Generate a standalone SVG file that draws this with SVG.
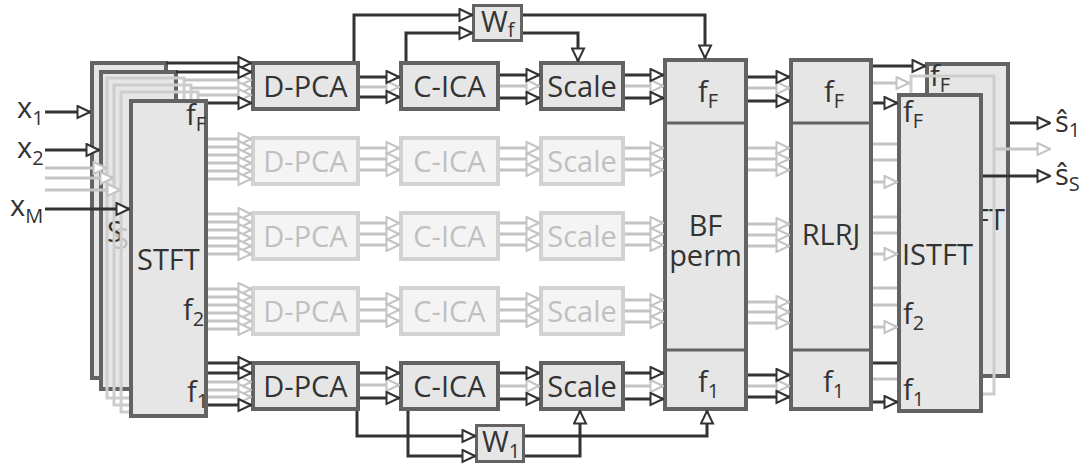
<svg xmlns="http://www.w3.org/2000/svg" width="1085" height="466" viewBox="0 0 1085 466">
<style>
.nd{fill:#e6e6e6;stroke:#636363;stroke-width:4}
.nl{fill:#f4f4f4;stroke:#d2d2d2;stroke-width:4}
.ls{fill:none;stroke:#cdcdcd;stroke-width:3}
.t{font-family:"Open Sans","Liberation Sans",sans-serif;font-size:29px;fill:#333}
.tl{font-family:"Open Sans","Liberation Sans",sans-serif;font-size:29px;fill:#c0c0c0}
.tm{text-anchor:middle}
.sb{font-size:20px}
.cd{fill:none;stroke:#333;stroke-width:3}
.cl{fill:none;stroke:#c4c4c4;stroke-width:3}
.dv{stroke:#636363;stroke-width:3}
</style>
<defs>
<marker id="ad" markerUnits="userSpaceOnUse" markerWidth="15" markerHeight="15" viewBox="0 0 15 15" refX="14" refY="7.5" orient="auto"><path d="M1.5,1.5 L14,7.5 L1.5,13.5 Z" fill="#fff" stroke="#333" stroke-width="2"/></marker>
<marker id="al" markerUnits="userSpaceOnUse" markerWidth="15" markerHeight="15" viewBox="0 0 15 15" refX="14" refY="7.5" orient="auto"><path d="M1.5,1.5 L14,7.5 L1.5,13.5 Z" fill="#fff" stroke="#c4c4c4" stroke-width="2"/></marker>
</defs>

<g id="stft">
<rect class="nd" x="92" y="63" width="74" height="315"/>
<rect class="nd" x="101" y="72" width="75" height="317"/>
<rect class="ls" x="107" y="78" width="77" height="320"/>
<text class="tl" x="113" y="249">S</text>
<text class="t" x="107" y="242">S</text>
<rect class="ls" x="114" y="85" width="77" height="320"/>
<rect class="ls" x="121" y="92" width="77" height="320"/>
<rect class="nd" x="131" y="101" width="75" height="315"/>
<text class="t" x="186" y="125">f<tspan class="sb" dy="6">F</tspan></text>
<text class="t" x="137" y="270">STFT</text>
<text class="t" x="183" y="320">f<tspan class="sb" dy="6">2</tspan></text>
<text class="t" x="187" y="402">f<tspan class="sb" dy="6">1</tspan></text>
</g>

<g id="inputs">
<text class="t" x="17" y="118">x<tspan class="sb" dy="7">1</tspan></text>
<text class="t" x="17" y="158">x<tspan class="sb" dy="7">2</tspan></text>
<text class="t" x="10" y="216">x<tspan class="sb" dy="7">M</tspan></text>
</g>

<g id="row1">
<rect class="nd" x="253" y="63" width="105" height="46"/><text class="t tm" x="305.5" y="97">D-PCA</text>
<rect class="nd" x="401" y="63" width="97" height="46"/><text class="t tm" x="449.5" y="97">C-ICA</text>
<rect class="nd" x="541" y="63" width="82" height="46"/><text class="t tm" x="582" y="97">Scale</text>
</g>
<g id="row2">
<rect class="nl" x="253" y="138" width="105" height="46"/><text class="tl tm" x="305.5" y="172">D-PCA</text>
<rect class="nl" x="401" y="138" width="97" height="46"/><text class="tl tm" x="449.5" y="172">C-ICA</text>
<rect class="nl" x="541" y="138" width="82" height="46"/><text class="tl tm" x="582" y="172">Scale</text>
</g>
<g id="row3">
<rect class="nl" x="253" y="213" width="105" height="46"/><text class="tl tm" x="305.5" y="247">D-PCA</text>
<rect class="nl" x="401" y="213" width="97" height="46"/><text class="tl tm" x="449.5" y="247">C-ICA</text>
<rect class="nl" x="541" y="213" width="82" height="46"/><text class="tl tm" x="582" y="247">Scale</text>
</g>
<g id="row4">
<rect class="nl" x="253" y="288" width="105" height="46"/><text class="tl tm" x="305.5" y="322">D-PCA</text>
<rect class="nl" x="401" y="288" width="97" height="46"/><text class="tl tm" x="449.5" y="322">C-ICA</text>
<rect class="nl" x="541" y="288" width="82" height="46"/><text class="tl tm" x="582" y="322">Scale</text>
</g>
<g id="row5">
<rect class="nd" x="253" y="363" width="105" height="46"/><text class="t tm" x="305.5" y="397">D-PCA</text>
<rect class="nd" x="401" y="363" width="97" height="46"/><text class="t tm" x="449.5" y="397">C-ICA</text>
<rect class="nd" x="541" y="363" width="82" height="46"/><text class="t tm" x="582" y="397">Scale</text>
</g>

<g id="wf">
<rect class="nd" x="473.5" y="5.5" width="48" height="35" style="stroke-width:3"/>
<text class="t" x="481" y="32">W<tspan class="sb" dy="5">f</tspan></text>
</g>
<g id="w1">
<rect class="nd" x="476.5" y="425.5" width="47" height="36" style="stroke-width:3"/>
<text class="t" x="482" y="452">W<tspan class="sb" dy="6">1</tspan></text>
</g>

<g id="bfperm">
<rect class="nd" x="665" y="60" width="81" height="349"/>
<line class="dv" x1="665" y1="123" x2="746" y2="123"/>
<line class="dv" x1="665" y1="350" x2="746" y2="350"/>
<text class="t" x="698" y="102">f<tspan class="sb" dy="6">F</tspan></text>
<text class="t tm" x="705.5" y="236">BF</text>
<text class="t tm" x="705.5" y="266">perm</text>
<text class="t" x="698" y="392">f<tspan class="sb" dy="6">1</tspan></text>
</g>

<g id="rlrj">
<rect class="nd" x="791" y="60" width="80" height="349"/>
<line class="dv" x1="791" y1="123" x2="871" y2="123"/>
<line class="dv" x1="791" y1="350" x2="871" y2="350"/>
<text class="t" x="824" y="102">f<tspan class="sb" dy="6">F</tspan></text>
<text class="t tm" x="831" y="245">RLRJ</text>
<text class="t" x="823" y="392">f<tspan class="sb" dy="6">1</tspan></text>
</g>

<g id="istft">
<rect class="nd" x="927" y="64" width="81" height="312"/>
<text class="t" x="930" y="86">f<tspan class="sb" dy="6">F</tspan></text>
<text class="t" x="934" y="230">ISTFT</text>
<rect class="ls" x="911" y="76" width="83" height="318"/>
<rect class="nd" x="899" y="95" width="82" height="316"/>
<text class="t" x="903" y="122">f<tspan class="sb" dy="6">F</tspan></text>
<text class="t" x="902" y="265">ISTFT</text>
<text class="t" x="903" y="324">f<tspan class="sb" dy="6">2</tspan></text>
<text class="t" x="903" y="400">f<tspan class="sb" dy="6">1</tspan></text>
</g>

<g id="outputs">
<text class="t" x="1055" y="132">ŝ<tspan class="sb" dy="5">1</tspan></text>
<text class="t" x="1055" y="185">ŝ<tspan class="sb" dy="6">S</tspan></text>
</g>

<g id="connectors">
<path class="cl" d="M45,168H106" marker-end="url(#al)"/>
<path class="cl" d="M45,178H113" marker-end="url(#al)"/>
<path class="cl" d="M45,190H120" marker-end="url(#al)"/>
<path class="cd" d="M45,112H90" marker-end="url(#ad)"/>
<path class="cd" d="M45,150H99" marker-end="url(#ad)"/>
<path class="cd" d="M45,209H129" marker-end="url(#ad)"/>
<path class="cl" d="M184,80H251" marker-end="url(#al)"/>
<path class="cl" d="M191,88H251" marker-end="url(#al)"/>
<path class="cl" d="M198,95H251" marker-end="url(#al)"/>
<path class="cd" d="M166,63H251" marker-end="url(#ad)"/>
<path class="cd" d="M176,72H251" marker-end="url(#ad)"/>
<path class="cd" d="M208,103H251" marker-end="url(#ad)"/>
<path class="cl" d="M208,139H251" marker-end="url(#al)"/><path class="cl" d="M208,147H251" marker-end="url(#al)"/><path class="cl" d="M208,155H251" marker-end="url(#al)"/><path class="cl" d="M208,163H251" marker-end="url(#al)"/><path class="cl" d="M208,171H251" marker-end="url(#al)"/><path class="cl" d="M208,179H251" marker-end="url(#al)"/>
<path class="cl" d="M208,214H251" marker-end="url(#al)"/><path class="cl" d="M208,222H251" marker-end="url(#al)"/><path class="cl" d="M208,230H251" marker-end="url(#al)"/><path class="cl" d="M208,238H251" marker-end="url(#al)"/><path class="cl" d="M208,246H251" marker-end="url(#al)"/><path class="cl" d="M208,254H251" marker-end="url(#al)"/>
<path class="cl" d="M208,289H251" marker-end="url(#al)"/><path class="cl" d="M208,297H251" marker-end="url(#al)"/><path class="cl" d="M208,305H251" marker-end="url(#al)"/><path class="cl" d="M208,313H251" marker-end="url(#al)"/><path class="cl" d="M208,321H251" marker-end="url(#al)"/><path class="cl" d="M208,329H251" marker-end="url(#al)"/>
<path class="cl" d="M208,382H251" marker-end="url(#al)"/><path class="cl" d="M208,390H251" marker-end="url(#al)"/><path class="cl" d="M208,397H251" marker-end="url(#al)"/>
<path class="cd" d="M208,363H251" marker-end="url(#ad)"/><path class="cd" d="M208,373H251" marker-end="url(#ad)"/><path class="cd" d="M208,405H251" marker-end="url(#ad)"/>
<path class="cl" d="M360,87H399" marker-end="url(#al)"/><path class="cd" d="M360,77H399" marker-end="url(#ad)"/><path class="cd" d="M360,97H399" marker-end="url(#ad)"/>
<path class="cl" d="M500,86H539" marker-end="url(#al)"/><path class="cd" d="M500,75H539" marker-end="url(#ad)"/><path class="cd" d="M500,98H539" marker-end="url(#ad)"/>
<path class="cl" d="M625,86H663" marker-end="url(#al)"/><path class="cd" d="M625,75H663" marker-end="url(#ad)"/><path class="cd" d="M625,98H663" marker-end="url(#ad)"/>
<path class="cl" d="M360,148H399" marker-end="url(#al)"/><path class="cl" d="M360,159H399" marker-end="url(#al)"/><path class="cl" d="M360,170H399" marker-end="url(#al)"/>
<path class="cl" d="M500,148H539" marker-end="url(#al)"/><path class="cl" d="M500,159H539" marker-end="url(#al)"/><path class="cl" d="M500,170H539" marker-end="url(#al)"/>
<path class="cl" d="M625,148H663" marker-end="url(#al)"/><path class="cl" d="M625,159H663" marker-end="url(#al)"/><path class="cl" d="M625,170H663" marker-end="url(#al)"/>
<path class="cl" d="M360,223H399" marker-end="url(#al)"/><path class="cl" d="M360,234H399" marker-end="url(#al)"/><path class="cl" d="M360,245H399" marker-end="url(#al)"/>
<path class="cl" d="M500,223H539" marker-end="url(#al)"/><path class="cl" d="M500,234H539" marker-end="url(#al)"/><path class="cl" d="M500,245H539" marker-end="url(#al)"/>
<path class="cl" d="M625,223H663" marker-end="url(#al)"/><path class="cl" d="M625,234H663" marker-end="url(#al)"/><path class="cl" d="M625,245H663" marker-end="url(#al)"/>
<path class="cl" d="M360,299H399" marker-end="url(#al)"/><path class="cl" d="M360,310H399" marker-end="url(#al)"/><path class="cl" d="M360,321H399" marker-end="url(#al)"/>
<path class="cl" d="M500,299H539" marker-end="url(#al)"/><path class="cl" d="M500,310H539" marker-end="url(#al)"/><path class="cl" d="M500,321H539" marker-end="url(#al)"/>
<path class="cl" d="M625,300H663" marker-end="url(#al)"/><path class="cl" d="M625,311H663" marker-end="url(#al)"/><path class="cl" d="M625,322H663" marker-end="url(#al)"/>
<path class="cl" d="M360,385H399" marker-end="url(#al)"/><path class="cd" d="M360,373H399" marker-end="url(#ad)"/><path class="cd" d="M360,398H399" marker-end="url(#ad)"/>
<path class="cl" d="M500,386H539" marker-end="url(#al)"/><path class="cd" d="M500,373H539" marker-end="url(#ad)"/><path class="cd" d="M500,399H539" marker-end="url(#ad)"/>
<path class="cl" d="M625,386H663" marker-end="url(#al)"/><path class="cd" d="M625,373H663" marker-end="url(#ad)"/><path class="cd" d="M625,399H663" marker-end="url(#ad)"/>
<path class="cl" d="M748,88H789" marker-end="url(#al)"/><path class="cd" d="M748,77H789" marker-end="url(#ad)"/><path class="cd" d="M748,101H789" marker-end="url(#ad)"/>
<path class="cl" d="M748,148H789" marker-end="url(#al)"/><path class="cl" d="M748,159H789" marker-end="url(#al)"/><path class="cl" d="M748,170H789" marker-end="url(#al)"/>
<path class="cl" d="M748,224H789" marker-end="url(#al)"/><path class="cl" d="M748,235H789" marker-end="url(#al)"/><path class="cl" d="M748,246H789" marker-end="url(#al)"/>
<path class="cl" d="M748,302H789" marker-end="url(#al)"/><path class="cl" d="M748,312H789" marker-end="url(#al)"/><path class="cl" d="M748,323H789" marker-end="url(#al)"/>
<path class="cl" d="M748,386H789" marker-end="url(#al)"/><path class="cd" d="M748,375H789" marker-end="url(#ad)"/><path class="cd" d="M748,397H789" marker-end="url(#ad)"/>
<path class="cd" d="M873,66H925" marker-end="url(#ad)"/>
<path class="cl" d="M873,83H909" marker-end="url(#al)"/>
<path class="cd" d="M873,103H897" marker-end="url(#ad)"/>
<path class="cl" d="M873,144H897M873,160H897"/><path class="cl" d="M873,182H897" marker-end="url(#al)"/>
<path class="cl" d="M873,217H897M873,233H897"/><path class="cl" d="M873,254H897" marker-end="url(#al)"/>
<path class="cl" d="M873,288H897M873,305H897"/><path class="cl" d="M873,327H897" marker-end="url(#al)"/>
<path class="cl" d="M873,379H897"/><path class="cd" d="M873,363H897"/><path class="cd" d="M873,402H897" marker-end="url(#ad)"/>
<path class="cl" d="M995,149H1050" marker-end="url(#al)"/>
<path class="cd" d="M1010,123H1050" marker-end="url(#ad)"/>
<path class="cd" d="M983,176H1050" marker-end="url(#ad)"/>
<path class="cd" d="M354,61V15H472" marker-end="url(#ad)"/>
<path class="cd" d="M406,61V33H472" marker-end="url(#ad)"/>
<path class="cd" d="M523,15H705V58" marker-end="url(#ad)"/>
<path class="cd" d="M523,33H578V61" marker-end="url(#ad)"/>
<path class="cd" d="M408,411V456H475" marker-end="url(#ad)"/>
<path class="cd" d="M357,411V436H475" marker-end="url(#ad)"/>
<path class="cd" d="M525,436H707V411" marker-end="url(#ad)"/>
<path class="cd" d="M525,456H580V411" marker-end="url(#ad)"/>
</g>
</svg>
